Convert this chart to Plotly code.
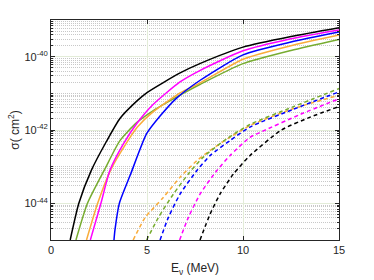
import plotly.graph_objects as go

# ---- data (energies in MeV, cross sections as log10(sigma / cm^2)) ----
black_solid_E = [1.0, 1.45, 2.1, 2.9, 3.6, 4.45, 5.0, 6.7, 7.75, 10, 12.5, 15]
black_solid_log = [-45, -44, -43.1, -42.3, -41.68, -41.22, -40.98, -40.45, -40.19, -39.74, -39.45, -39.21]

magenta_solid_E = [2.05, 2.6, 3.07, 3.77, 4.46, 5.33, 6.72, 7.75, 10, 12.5, 15]
magenta_solid_log = [-45, -44, -43.1, -42.38, -41.83, -41.3, -40.69, -40.38, -39.84, -39.51, -39.27]

orange_solid_E = [1.85, 2.43, 3.1, 3.9, 4.5, 5.33, 6.72, 7.75, 10, 12.5, 15]
orange_solid_log = [-45, -44, -43.1, -42.38, -41.92, -41.5, -40.99, -40.72, -40.07, -39.7, -39.41]

green_solid_E = [1.3, 1.9, 2.81, 3.59, 4.46, 5.33, 6.72, 7.75, 10, 12.5, 15]
green_solid_log = [-45, -44, -43.06, -42.29, -41.8, -41.47, -41.05, -40.76, -40.19, -39.83, -39.53]

blue_solid_E = [3.28, 3.33, 3.56, 4.15, 4.98, 5.68, 6.5, 7.75, 10, 12.5, 15]
blue_solid_log = [-45, -44.73, -44, -43.2, -42.1, -41.62, -41.15, -40.65, -39.95, -39.6, -39.33]

orange_dash_E = [4.28, 4.9, 5.85, 6.72, 7.59, 8.28, 9.32, 10.36, 12.6, 15]
orange_dash_log = [-45, -44.39, -43.84, -43.29, -42.84, -42.56, -42.2, -41.88, -41.42, -41.05]

green_dash_E = [4.98, 5.59, 6.37, 7.15, 7.93, 9.15, 10.36, 12.6, 15]
green_dash_log = [-45, -44.39, -43.75, -43.2, -42.74, -42.24, -41.85, -41.37, -40.87]

blue_dash_E = [5.68, 6.11, 6.72, 7.59, 8.28, 9.32, 10.36, 12.6, 15]
blue_dash_log = [-45, -44.39, -43.75, -43.11, -42.7, -42.29, -41.92, -41.44, -40.96]

magenta_dash_E = [6.7, 7.15, 7.76, 8.63, 9.32, 10.36, 11.0, 13, 15]
magenta_dash_log = [-45, -44.39, -43.75, -43.11, -42.7, -42.2, -42.04, -41.57, -41.15]

black_dash_E = [7.76, 8.28, 8.8, 9.5, 10.36, 12.0, 13.5, 15]
black_dash_log = [-45, -44.3, -43.75, -43.2, -42.7, -42.0, -41.65, -41.36]

x_tick_vals = [0, 5, 10, 15]
y_tick_exps = [-44, -42, -40]
y_tick_labels = ["10<sup>-44</sup>", "10<sup>-42</sup>", "10<sup>-40</sup>"]

BLACK = "#000000"
MAGENTA = "#ff00ff"
ORANGE = "#f9ac3a"
GREEN = "#77ac30"
BLUE = "#0000ff"

series = [
    (black_solid_E, black_solid_log, BLACK, "solid"),
    (green_solid_E, green_solid_log, GREEN, "solid"),
    (orange_solid_E, orange_solid_log, ORANGE, "solid"),
    (magenta_solid_E, magenta_solid_log, MAGENTA, "solid"),
    (blue_solid_E, blue_solid_log, BLUE, "solid"),
    (orange_dash_E, orange_dash_log, ORANGE, "4px,3px"),
    (green_dash_E, green_dash_log, GREEN, "4px,3px"),
    (blue_dash_E, blue_dash_log, BLUE, "4px,3px"),
    (magenta_dash_E, magenta_dash_log, MAGENTA, "4px,3px"),
    (black_dash_E, black_dash_log, BLACK, "4px,3px"),
]

fig = go.Figure()
for E, lg, col, dash in series:
    fig.add_trace(go.Scatter(
        x=E, y=[10 ** v for v in lg], mode="lines",
        line=dict(color=col, width=1.5, dash=dash, shape="spline", smoothing=0.6),
        showlegend=False, hoverinfo="skip"))

minor_vals = []
for n in range(-45, -39):
    for k in range(1, 10):
        if k == 1 and n in y_tick_exps:
            continue
        minor_vals.append(k * 10.0 ** n)
minor_vals.append(1e-39)

AX = "#262626"
fig.update_layout(
    width=374, height=280,
    margin=dict(l=51, r=35, t=20, b=40),
    paper_bgcolor="white", plot_bgcolor="white",
    font=dict(family="Liberation Sans, Arial, sans-serif", size=11, color=AX),
    showlegend=False,
)
fig.update_xaxes(
    range=[0, 15], tickvals=x_tick_vals, ticktext=[str(v) for v in x_tick_vals],
    automargin=False,
    showline=True, linecolor=AX, linewidth=1, mirror="allticks",
    ticks="inside", ticklen=4, tickcolor=AX,
    showgrid=True, gridcolor="#e3ecd8", gridwidth=1,
    zeroline=False,
    title=dict(text="E<sub>ν</sub> (MeV)", font=dict(size=12, color=AX), standoff=8),
    tickfont=dict(size=11, color=AX),
)
fig.update_yaxes(
    type="log", range=[-45, -39],
    tickvals=[10.0 ** e for e in y_tick_exps], ticktext=y_tick_labels,
    automargin=False,
    showline=True, linecolor=AX, linewidth=1, mirror="allticks",
    ticks="inside", ticklen=4, tickcolor=AX,
    showgrid=True, gridcolor="#e3ecd8", gridwidth=1,
    zeroline=False,
    minor=dict(tickmode="array", tickvals=minor_vals, ticks="inside", ticklen=2,
               tickcolor=AX, showgrid=True, gridcolor="#c8c8c8", griddash="1px,1px", gridwidth=1),
    title=dict(text="σ( cm<sup>2</sup>)", font=dict(size=12, color=AX), standoff=2),
    tickfont=dict(size=11, color=AX),
)

fig.write_html("out.html", config={"displayModeBar": False, "staticPlot": True},
               post_script="document.body.style.margin='0';document.body.style.overflow='hidden';")
